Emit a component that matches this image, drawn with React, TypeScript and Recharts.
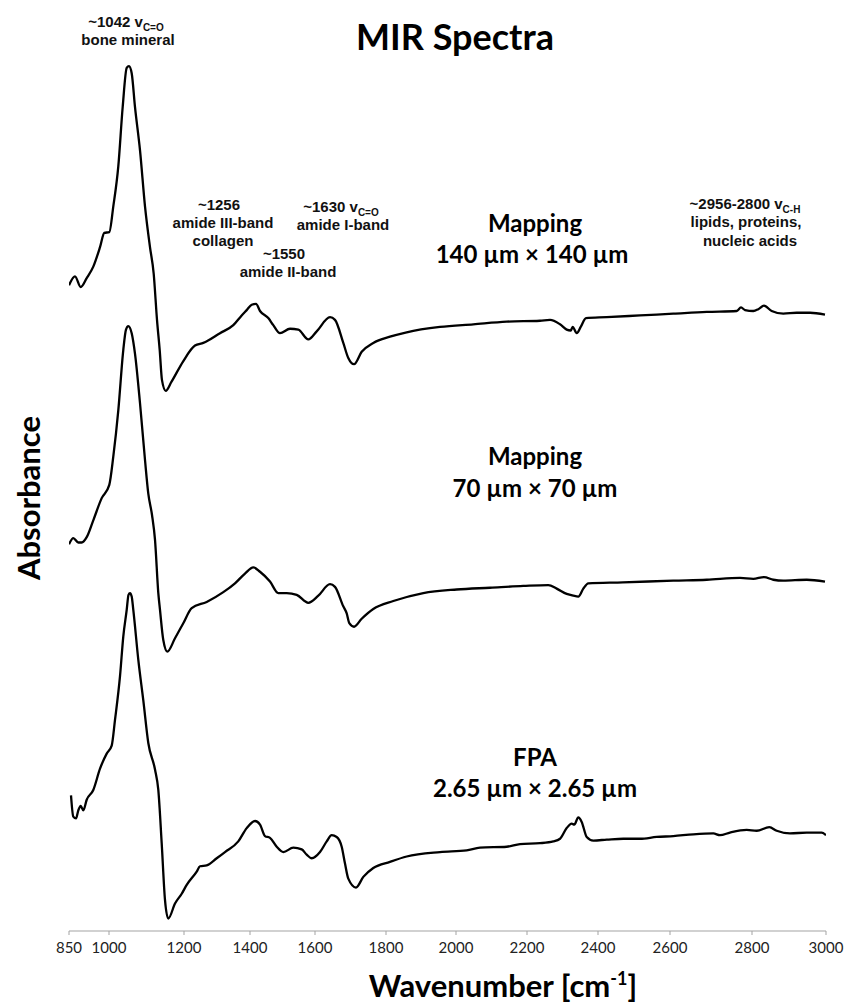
import { LineChart, Line, XAxis, YAxis } from "recharts";

// x-axis labels of the original chart and where each one sits along the axis
const X_TICKS = [850, 1000, 1200, 1400, 1600, 1800, 2000, 2200, 2400, 2600, 2800, 3000];
const X_TICK_SLOTS = [0, 40, 115, 181, 246, 317, 387, 458, 529, 601, 683, 757];

// Mapping 140 µm × 140 µm (offset absorbance, arbitrary units)
const WN_MAP140 = [
  850, 872.5, 893.9, 916.4, 941.1, 966.3, 982.4, 1000.8, 1011.5, 1024.8, 1036.5, 1047.2, 1053.3,
  1060.5, 1069.3, 1082.7, 1096, 1109.3, 1119.2, 1128, 1135.2, 1141.3, 1151.2, 1166.4, 1197.4,
  1233.3, 1258.5, 1309.1, 1349.4, 1374.8, 1390, 1405.2, 1418.5, 1430.8, 1456.3, 1471.7, 1492.3,
  1523.1, 1548.6, 1579.4, 1604.8, 1642.3, 1656.3, 1679.7, 1693.8, 1709.9, 1731.5, 1764.2, 1811.4,
  1859.1, 1954.3, 2048.7, 2142.8, 2236.6, 2264.8, 2293, 2311.8, 2323.1, 2328.7, 2340, 2351.3,
  2366.2, 2424.2, 2516.7, 2608, 2689.6, 2762.7, 2773.2, 2783, 2803.5, 2817, 2832.4, 2853.2,
  2884.6, 2920.8, 2956.8, 2997.3,
];
const ABS_MAP140 = [
  72.8, 73.8, 72.6, 73.6, 74.9, 77.1, 78.7, 78.8, 81.7, 86.2, 92.9, 97.3, 97.5,
  96.7, 92.9, 88.0, 81.7, 77.1, 74.1, 68.9, 65.5, 62.1, 60.9, 61.9, 64.2,
  66.0, 66.3, 67.4, 68.3, 69.4, 70.0, 70.6, 70.7, 69.9, 69.1, 68.3, 67.4,
  67.9, 67.8, 66.7, 67.6, 69.2, 68.9, 66.3, 64.6, 63.9, 65.3, 66.3, 67.0,
  67.5, 68.1, 68.4, 68.7, 68.8, 68.9, 68.4, 67.8, 67.7, 68.1, 67.4, 68.1,
  69.1, 69.2, 69.4, 69.6, 69.8, 69.9, 70.3, 70.0, 69.9, 70.1, 70.5, 69.9,
  69.6, 69.7, 69.7, 69.5,
];

// Mapping 70 µm × 70 µm
const WN_MAP70 = [
  850, 866.1, 884.9, 897.6, 916.4, 941.1, 972.6, 1000.8, 1011.5, 1024.8, 1038.1, 1045.3, 1051.5,
  1060.5, 1069.3, 1082.7, 1096, 1104.8, 1114.7, 1122.7, 1131.5, 1136, 1144.8, 1155.5, 1176,
  1198.1, 1223.3, 1268.8, 1319.1, 1354.5, 1384.8, 1410.2, 1430.8, 1461.5, 1487.1, 1512.9, 1543.7,
  1579.4, 1609.3, 1642.3, 1656.3, 1679.7, 1689.3, 1696.6, 1709.9, 1731.5, 1764.2, 1820.9, 1906.6,
  2002, 2095.8, 2189.6, 2260, 2283.7, 2311.8, 2330.4, 2344.5, 2358.6, 2372.7, 2469.2, 2608,
  2689.6, 2770.7, 2803.5, 2832.4, 2857.6, 2884.6, 2947.9, 2997.3,
];
const ABS_MAP70 = [
  43.6, 44.3, 43.8, 43.8, 44.4, 46.3, 48.8, 50.3, 53.5, 58.7, 65.5, 67.8, 68.2,
  67.4, 65.1, 59.5, 53.1, 49.3, 46.9, 44.1, 38.1, 36.2, 32.8, 31.5, 33.0,
  34.7, 36.4, 37.1, 38.2, 39.2, 40.3, 41.0, 40.5, 39.4, 38.1, 38.1, 37.9,
  37.0, 37.8, 39.1, 38.8, 36.6, 35.8, 34.7, 34.3, 35.2, 36.3, 37.2, 38.1,
  38.5, 38.7, 38.9, 39.0, 38.6, 38.0, 37.8, 37.7, 38.6, 39.2, 39.3, 39.5,
  39.6, 39.8, 39.7, 39.9, 39.6, 39.5, 39.6, 39.4,
];

// FPA 2.65 µm × 2.65 µm
const WN_FPA = [
  857.5, 866.1, 876.3, 884.9, 893.9, 903.6, 916.4, 941.1, 966.3, 991.4, 1007.2, 1016, 1029.3,
  1038.1, 1047.2, 1052, 1056, 1060.5, 1064.8, 1078.1, 1091.5, 1104.8, 1122.7, 1131.5, 1140.5,
  1149.3, 1158.1, 1176, 1193.9, 1208.2, 1238.5, 1248.5, 1268.8, 1299.1, 1324.2, 1364.5, 1390,
  1415.4, 1430.8, 1446.2, 1461.5, 1482.2, 1502.5, 1533.3, 1559.1, 1574.5, 1589.8, 1614.1, 1633,
  1647, 1661.1, 1675.2, 1684.5, 1693.8, 1715.5, 1736.1, 1764.2, 1811.4, 1859.1, 1954.3, 2030.1,
  2067.6, 2142.8, 2180.3, 2236.6, 2274.1, 2293, 2311.8, 2325.9, 2333.2, 2344.5, 2354.1, 2368.2,
  2386.8, 2424.2, 2470.3, 2516.7, 2563.1, 2608, 2656.8, 2705.6, 2721.9, 2746.3, 2787, 2812.7,
  2846.8, 2866.8, 2902.7, 2947.9, 2988.4, 3000,
];
const ABS_FPA = [
  15.3, 12.9, 12.7, 13.6, 14.1, 13.6, 14.8, 15.9, 18.3, 20.0, 20.9, 23.8, 28.7,
  33.2, 36.2, 37.9, 38.1, 37.7, 36.2, 30.6, 26.0, 21.2, 18.2, 15.9, 9.9,
  3.5, 1.4, 3.1, 4.2, 5.2, 6.7, 7.3, 7.4, 8.2, 8.9, 10.1, 11.6,
  12.4, 12.0, 10.7, 10.5, 9.5, 8.9, 9.4, 9.2, 8.6, 8.2, 8.9, 10.1,
  10.8, 10.6, 9.5, 7.6, 5.9, 4.9, 6.1, 7.1, 7.8, 8.4, 8.9, 9.1,
  9.4, 9.5, 9.8, 9.9, 10.1, 10.4, 11.6, 12.1, 12.0, 12.8, 12.3, 10.6,
  10.2, 10.3, 10.4, 10.4, 10.6, 10.7, 10.9, 11.0, 10.8, 11.1, 11.4, 11.3,
  11.7, 11.3, 11.0, 11.1, 11.1, 10.8,
];

// place a wavenumber on the (uneven) axis of the original chart
function toSlot(wn: number): number {
  for (let i = 0; i < X_TICKS.length - 1; i++) {
    if (wn <= X_TICKS[i + 1]) {
      const t = (wn - X_TICKS[i]) / (X_TICKS[i + 1] - X_TICKS[i]);
      return X_TICK_SLOTS[i] + t * (X_TICK_SLOTS[i + 1] - X_TICK_SLOTS[i]);
    }
  }
  return X_TICK_SLOTS[X_TICK_SLOTS.length - 1];
}

const rows = (wn: number[], abs: number[]) => wn.map((w, i) => ({ slot: toSlot(w), abs: abs[i] }));

const series = [
  { key: "map140", data: rows(WN_MAP140, ABS_MAP140) },
  { key: "map70", data: rows(WN_MAP70, ABS_MAP70) },
  { key: "fpa", data: rows(WN_FPA, ABS_FPA) },
];

const AXIS_GREY = "#a3a3a3";
const NOTE = { fontFamily: "'Liberation Sans', Arial, sans-serif", fontWeight: 700, fontSize: 15, fill: "#111" };
const BIG = { fontFamily: "Lato, sans-serif", fontWeight: 700, fill: "#000" };

function Note({ x, y, children }: { x: number; y: number; children: any }) {
  return (
    <text x={x} y={y} textAnchor="middle" {...NOTE}>
      {children}
    </text>
  );
}

const Sub = ({ t }: { t: string }) => (
  <>
    <tspan dy={4} fontSize={10}>{t}</tspan>
    <tspan dy={-4}></tspan>
  </>
);

export default function App() {
  return (
    <div style={{ position: "absolute", left: 0, top: 0, width: 845, height: 1007, background: "#fff" }}>
      <LineChart width={845} height={1007} margin={{ top: 44, right: 19, bottom: 46, left: 69 }}>
        <XAxis
          type="number"
          dataKey="slot"
          domain={[0, 757]}
          ticks={X_TICK_SLOTS}
          interval={0}
          allowDataOverflow
          tickFormatter={(v: number) => String(X_TICKS[X_TICK_SLOTS.indexOf(v)])}
          height={30}
          axisLine={{ stroke: AXIS_GREY }}
          tickLine={{ stroke: AXIS_GREY }}
          tickSize={4}
          tickMargin={7}
          tick={{ fill: "#222", fontSize: 15, fontFamily: "Lato, sans-serif" }}
        />
        <YAxis
          type="number"
          domain={[0, 100]}
          width={0}
          tick={false}
          tickLine={false}
          axisLine={{ stroke: AXIS_GREY }}
        />
        {series.map((s) => (
          <Line
            key={s.key}
            data={s.data}
            dataKey="abs"
            type="monotone"
            stroke="#000"
            strokeWidth={2.3}
            dot={false}
            isAnimationActive={false}
          />
        ))}
      </LineChart>
      <svg width={845} height={1007} style={{ position: "absolute", left: 0, top: 0, pointerEvents: "none" }}>
        <text x={455} y={50} textAnchor="middle" fontSize={36} {...BIG}>MIR Spectra</text>

        <Note x={126} y={27}>~1042 v<Sub t="C=O" /></Note>
        <Note x={128} y={45}>bone mineral</Note>
        <Note x={219} y={210}>~1256</Note>
        <Note x={223} y={228}>amide III-band</Note>
        <Note x={223} y={246}>collagen</Note>
        <Note x={284} y={259}>~1550</Note>
        <Note x={288} y={277}>amide II-band</Note>
        <Note x={341} y={212}>~1630 v<Sub t="C=O" /></Note>
        <Note x={343} y={230}>amide I-band</Note>
        <Note x={745} y={209}>~2956-2800 v<Sub t="C-H" /></Note>
        <Note x={746} y={227}>lipids, proteins,</Note>
        <Note x={750} y={246}>nucleic acids</Note>

        <text x={535} y={232} textAnchor="middle" fontSize={24} {...BIG}>Mapping</text>
        <text x={532} y={263} textAnchor="middle" fontSize={24} {...BIG}>140 µm × 140 µm</text>
        <text x={535} y={465} textAnchor="middle" fontSize={24} {...BIG}>Mapping</text>
        <text x={535} y={497} textAnchor="middle" fontSize={24} {...BIG}>70 µm × 70 µm</text>
        <text x={535} y={766} textAnchor="middle" fontSize={24} {...BIG}>FPA</text>
        <text x={535} y={797} textAnchor="middle" fontSize={24} {...BIG}>2.65 µm × 2.65 µm</text>

        <text x={40} y={498} textAnchor="middle" fontSize={31} transform="rotate(-90 40 498)" {...BIG}>
          Absorbance
        </text>
        <text x={503} y={997} textAnchor="middle" fontSize={31} {...BIG}>
          Wavenumber [cm<tspan dy={-12} fontSize={18}>-1</tspan><tspan dy={12}>]</tspan>
        </text>
      </svg>
    </div>
  );
}
